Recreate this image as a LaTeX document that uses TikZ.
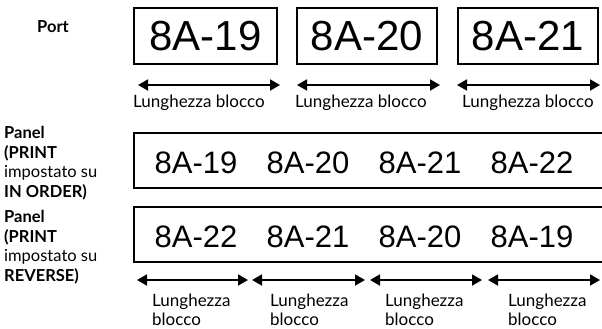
\documentclass[tikz,border=0pt]{standalone}
\usepackage{fontspec}
\setmainfont{Lato}
\newfontfamily\stampa{Liberation Sans}
\usetikzlibrary{arrows.meta}

\begin{document}
\begin{tikzpicture}[x=1pt,y=-1pt,
  blocco/.style={draw,line width=1.6pt,minimum height=56pt,inner sep=0pt,
    font=\stampa\fontsize{42}{42}\selectfont},
  nastro/.style={anchor=base,font=\stampa\fontsize{31}{31}\selectfont},
  freccia/.style={{Triangle[length=10pt,width=11pt]}-{Triangle[length=10pt,width=11pt]},line width=1.8pt},
  lato/.style={anchor=base west,inner sep=0pt,font=\fontsize{16.5}{19.6}\selectfont},
  didasc/.style={anchor=base west,inner sep=0pt,font=\fontsize{17}{19.5}\selectfont}]
\useasboundingbox (0,0) rectangle (602,329);
% подписи слева
\node [lato] (port) at (37,33) {\textbf{Port}};
\node [lato] (ordine) at (4,138.5) {\begin{tabular}[t]{@{}l@{}}\textbf{Panel}\\\textbf{(PRINT}\\impostato su\\\textbf{IN ORDER)}\end{tabular}};
\node [lato] (inverso) at (4,222.5) {\begin{tabular}[t]{@{}l@{}}\textbf{Panel}\\\textbf{(PRINT}\\impostato su\\\textbf{REVERSE)}\end{tabular}};
% Port
\node [blocco,minimum width=143pt] (p19) at (205.5,36) {8A-19};
\node [blocco,minimum width=140pt] (p20) at (367,36) {8A-20};
\node [blocco,minimum width=140pt] (p21) at (528,36) {8A-21};
\coordinate (f1a) at (138,85); \coordinate (f1b) at (280,85);
\coordinate (f2a) at (297,85); \coordinate (f2b) at (440,85);
\coordinate (f3a) at (457,85); \coordinate (f3b) at (600,85);
\draw [freccia] (f1a) -- (f1b);
\draw [freccia] (f2a) -- (f2b);
\draw [freccia] (f3a) -- (f3b);
\node [didasc] (l1) at (133,107) {Lunghezza blocco};
\node [didasc] (l2) at (295,107) {Lunghezza blocco};
\node [didasc] (l3) at (462,107) {Lunghezza blocco};
% Panel, IN ORDER
\draw [line width=1.6pt] (602,133) -| (134,188) -- (602,188);
\node [nastro] (a19) at (196,173.5) {8A-19};
\node [nastro] (a20) at (308,173.5) {8A-20};
\node [nastro] (a21) at (420,173.5) {8A-21};
\node [nastro] (a22) at (532,173.5) {8A-22};
% Panel, REVERSE
\draw [line width=1.6pt] (602,207) -| (134,262) -- (602,262);
\node [nastro] (r22) at (196,247.5) {8A-22};
\node [nastro] (r21) at (308,247.5) {8A-21};
\node [nastro] (r20) at (420,247.5) {8A-20};
\node [nastro] (r19) at (532,247.5) {8A-19};
\coordinate (g1a) at (137,280); \coordinate (g1b) at (248,280);
\coordinate (g2a) at (252,280); \coordinate (g2b) at (365,280);
\coordinate (g3a) at (370,280); \coordinate (g3b) at (482,280);
\coordinate (g4a) at (488,280); \coordinate (g4b) at (600,280);
\draw [freccia] (g1a) -- (g1b);
\draw [freccia] (g2a) -- (g2b);
\draw [freccia] (g3a) -- (g3b);
\draw [freccia] (g4a) -- (g4b);
\node [didasc] (m1) at (152,306) {\begin{tabular}[t]{@{}l@{}}Lunghezza\\blocco\end{tabular}};
\node [didasc] (m2) at (270,306) {\begin{tabular}[t]{@{}l@{}}Lunghezza\\blocco\end{tabular}};
\node [didasc] (m3) at (385,306) {\begin{tabular}[t]{@{}l@{}}Lunghezza\\blocco\end{tabular}};
\node [didasc] (m4) at (508,306) {\begin{tabular}[t]{@{}l@{}}Lunghezza\\blocco\end{tabular}};
\end{tikzpicture}
\end{document}
